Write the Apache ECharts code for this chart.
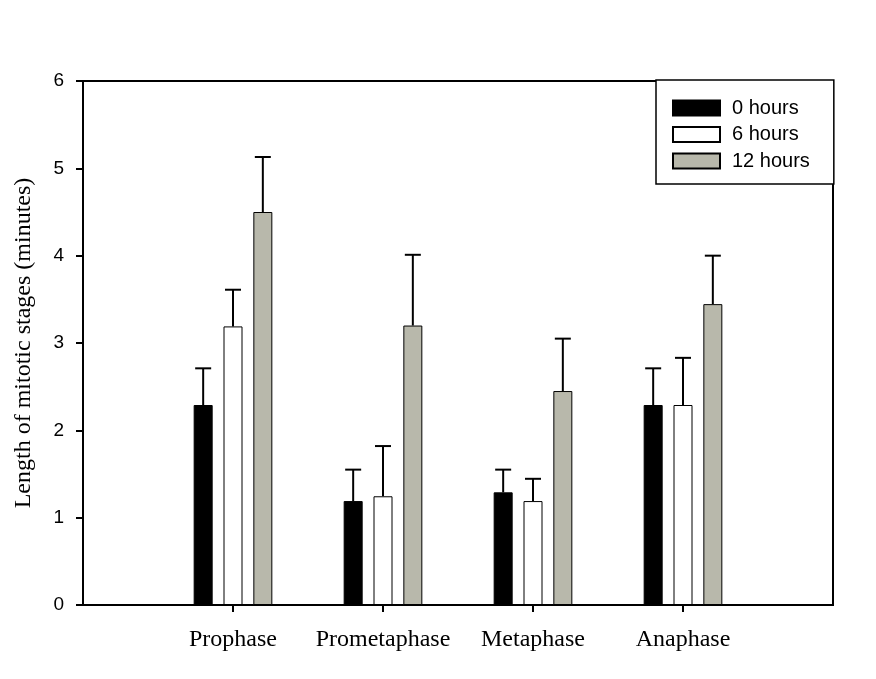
<!DOCTYPE html>
<html>
<head>
<meta charset="utf-8">
<script src="https://cdn.jsdelivr.net/npm/echarts@6/dist/echarts.min.js"></script>
<style>
html,body{margin:0;padding:0;background:#fff;}
#chart{width:876px;height:679px;}
</style>
</head>
<body>
<div id="chart"></div>
<script>
// ---- data ----
var categories = ['Prophase', 'Prometaphase', 'Metaphase', 'Anaphase'];
var seriesNames = ['0 hours', '6 hours', '12 hours'];
var mean0h  = [2.29, 1.19, 1.29, 2.29];
var err0h   = [0.42, 0.36, 0.26, 0.42];
var mean6h  = [3.19, 1.245, 1.19, 2.29];
var err6h   = [0.42, 0.575, 0.255, 0.54];
var mean12h = [4.50, 3.20, 2.45, 3.445];
var err12h  = [0.63, 0.81, 0.60, 0.555];
var yTicks = [0, 1, 2, 3, 4, 5, 6];

// ---- layout / style ----
var BAR_W = 19;
var BAR_GAP = 0.57;
var colors = ['#000000', '#ffffff', '#b8b8ab'];
var means = [mean0h, mean6h, mean12h];
var errs = [err0h, err6h, err12h];

// padded category axis (empty slot at each end, boundaryGap false)
var axisCats = [''].concat(categories).concat(['']);
function pad(arr) { return ['-'].concat(arr).concat(['-']); }

var series = [];
means.forEach(function (m, i) {
  series.push({
    name: seriesNames[i],
    type: 'bar',
    data: pad(m),
    barWidth: BAR_W,
    barGap: (BAR_GAP * 100) + '%',
    itemStyle: { color: colors[i], borderColor: '#000', borderWidth: 1 },
    silent: true,
    z: 2
  });
});
means.forEach(function (m, i) {
  var offset = (i - 1) * BAR_W * (1 + BAR_GAP);
  var data = [];
  m.forEach(function (v, j) { data.push([j + 1, v, v + errs[i][j]]); });
  series.push({
    type: 'custom',
    silent: true,
    z: 3,
    data: data,
    renderItem: function (params, api) {
      var x = api.value(0);
      var lo = api.coord([x, api.value(1)]);
      var hi = api.coord([x, api.value(2)]);
      var cx = lo[0] + offset;
      return {
        type: 'group',
        children: [
          { type: 'line', shape: { x1: cx, y1: lo[1], x2: cx, y2: hi[1] },
            style: { stroke: '#000', lineWidth: 2 } },
          { type: 'line', shape: { x1: cx - 8, y1: hi[1], x2: cx + 8, y2: hi[1] },
            style: { stroke: '#000', lineWidth: 2 } }
        ]
      };
    }
  });
});

var chart = echarts.init(document.getElementById('chart'), null, { renderer: 'canvas' });
chart.setOption({
  animation: false,
  backgroundColor: '#fff',
  grid: {
    left: 83, right: 43, top: 81, bottom: 74,
    show: true, borderColor: '#000', borderWidth: 2, backgroundColor: 'transparent'
  },
  legend: {
    data: seriesNames,
    orient: 'vertical',
    left: 656, top: 80,
    itemWidth: 47, itemHeight: 15, itemGap: 6.5,
    padding: [18, 24, 13, 16],
    borderColor: '#000', borderWidth: 1.5,
    backgroundColor: '#fff',
    icon: 'rect',
    selectedMode: false,
    textStyle: { fontFamily: '"Liberation Sans", Arial, sans-serif', fontSize: 20, color: '#000', padding: [0, 0, 0, 7] }
  },
  xAxis: {
    type: 'category',
    data: axisCats,
    boundaryGap: false,
    axisLine: { lineStyle: { color: '#000', width: 2 } },
    axisTick: {
      length: 7, inside: false,
      lineStyle: { color: '#000', width: 2 },
      interval: function (idx) { return idx > 0 && idx < axisCats.length - 1; }
    },
    axisLabel: {
      interval: 0, margin: 23,
      fontFamily: '"Liberation Serif", "Times New Roman", serif',
      fontSize: 24, color: '#000'
    },
    splitLine: { show: false }
  },
  yAxis: {
    type: 'value',
    min: yTicks[0], max: yTicks[yTicks.length - 1], interval: 1,
    name: 'Length of mitotic stages (minutes)',
    nameLocation: 'middle',
    nameGap: 47,
    nameTextStyle: { fontFamily: '"Liberation Serif", "Times New Roman", serif', fontSize: 24, color: '#000' },
    axisLine: { show: true, lineStyle: { color: '#000', width: 2 } },
    axisTick: { show: true, length: 7, lineStyle: { color: '#000', width: 2 } },
    axisLabel: {
      margin: 19,
      fontFamily: '"Liberation Sans", Arial, sans-serif',
      fontSize: 19, color: '#000'
    },
    splitLine: { show: false }
  },
  series: series
});
</script>
</body>
</html>
